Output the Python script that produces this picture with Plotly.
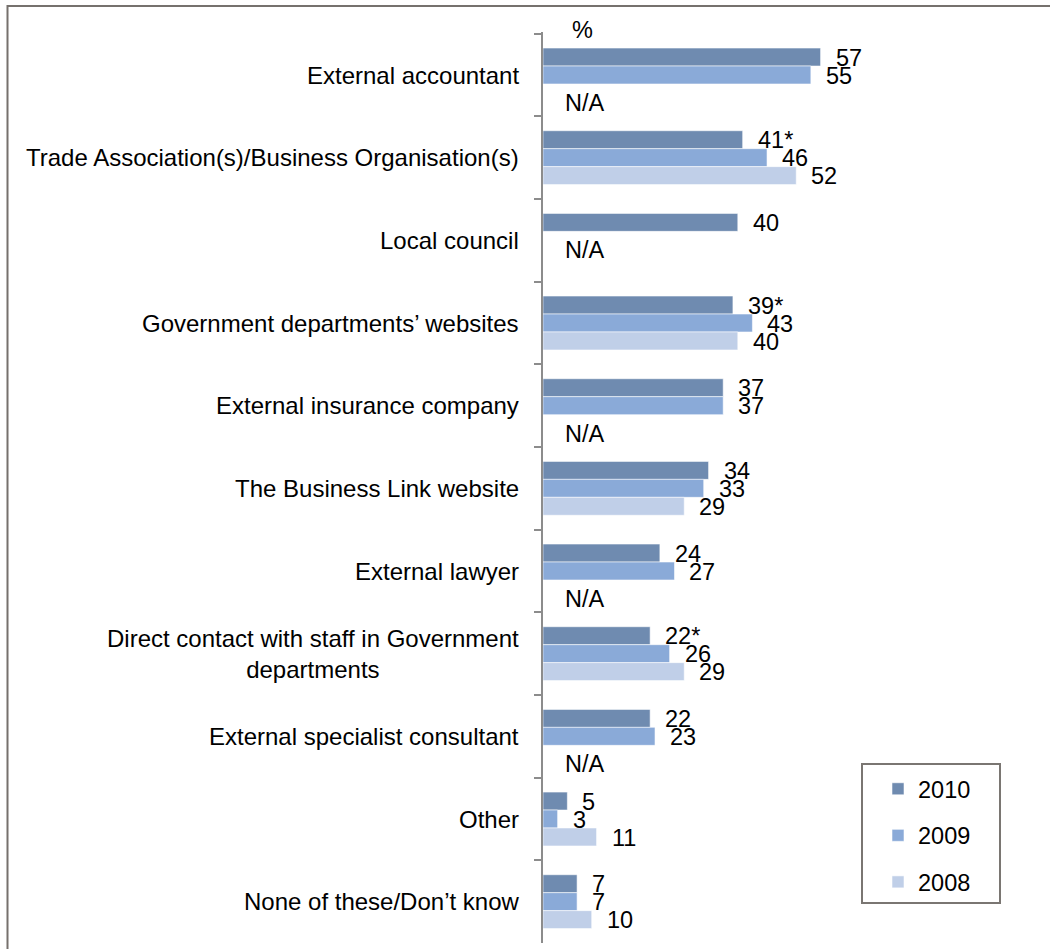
import plotly.graph_objects as go

# Sources of advice used (%), by survey year
categories = [
    "External accountant",
    "Trade Association(s)/Business Organisation(s)",
    "Local council",
    "Government departments’ websites",
    "External insurance company",
    "The Business Link website",
    "External lawyer",
    "Direct contact with staff in Government departments",
    "External specialist consultant",
    "Other",
    "None of these/Don’t know",
]
category_labels = [
    "External accountant",
    "Trade Association(s)/Business Organisation(s)",
    "Local council",
    "Government departments’ websites",
    "External insurance company",
    "The Business Link website",
    "External lawyer",
    "Direct contact with staff in Government<br>departments",
    "External specialist consultant",
    "Other",
    "None of these/Don’t know",
]
share_2010 = [57, 41, 40, 39, 37, 34, 24, 22, 22, 5, 7]
signif_2010 = [False, True, False, True, False, False, False, True, False, False, False]
share_2009 = [55, 46, None, 43, 37, 33, 27, 26, 23, 3, 7]
share_2008 = [None, 52, None, 40, None, 29, None, 29, None, 11, 10]

years = ["2010", "2009", "2008"]
bar_colors = ["#6f8bb0", "#8aaad8", "#c0cfe8"]
series = [share_2010, share_2009, share_2008]
stars = [signif_2010, [False] * len(categories), [False] * len(categories)]

FONT = "Liberation Sans, Arial, sans-serif"
W, H = 1050, 949
L, R, T, B = 543, 20, 32, 6
PW, PH = W - L - R, H - T - B


def px_x(px):
    return (px - L) / PW


def px_y(py):
    return (H - B - py) / PH


fig = go.Figure()
for year, vals, color in zip(years, series, bar_colors):
    fig.add_trace(go.Bar(
        y=categories, x=vals, orientation="h", name=year,
        legendgroup=year,
        marker=dict(color=color, line=dict(color="rgba(255,255,255,0.55)", width=1)),
        hoverinfo="x+name",
    ))

annotations = []
slot_px = 18
# value labels next to each bar end
for j, (vals, st) in enumerate(zip(series, stars)):
    for cat, v, s in zip(categories, vals, st):
        if v is None:
            continue
        annotations.append(dict(
            x=v, y=cat, xref="x", yref="y", text=f"{v}{'*' if s else ''}",
            showarrow=False, xanchor="left", yanchor="middle",
            xshift=13, yshift=slot_px * (1 - j) - 0.5,
            font=dict(family=FONT, size=23.5, color="#000000"),
        ))
# "N/A" where a year was not asked
for i, cat in enumerate(categories):
    for j, vals in enumerate(series):
        if vals[i] is None:
            annotations.append(dict(
                x=0, y=cat, xref="x", yref="y", text="N/A",
                showarrow=False, xanchor="left", yanchor="middle",
                xshift=20, yshift=slot_px * (1 - j) - 10,
                font=dict(family=FONT, size=23.5, color="#000000"),
            ))
            break
# category labels, centred multi-line text right-aligned to the axis
for cat, lab in zip(categories, category_labels):
    annotations.append(dict(
        x=0, y=cat, xref="paper", yref="y", text=lab, showarrow=False,
        xanchor="right", yanchor="middle", align="center", xshift=-22,
        font=dict(family=FONT, size=24, color="#000000"),
    ))
annotations.append(dict(
    x=px_x(582), y=px_y(30), xref="paper", yref="paper", text="%",
    showarrow=False, xanchor="center", yanchor="middle",
    font=dict(family=FONT, size=23.5, color="#000000"),
))

shapes = [
    # outer frame
    dict(type="rect", xref="paper", yref="paper",
         x0=px_x(7.5), x1=px_x(1070), y0=px_y(970), y1=px_y(6),
         line=dict(color="#76716d", width=2), fillcolor="rgba(0,0,0,0)", layer="below"),
    # legend frame
    dict(type="rect", xref="paper", yref="paper",
         x0=px_x(862), x1=px_x(1000), y0=px_y(903), y1=px_y(764),
         line=dict(color="#7a7672", width=2), fillcolor="rgba(0,0,0,0)"),
]

fig.update_layout(
    width=W, height=H,
    margin=dict(l=L, r=R, t=T, b=B, pad=0),
    paper_bgcolor="white", plot_bgcolor="white",
    barmode="group", bargap=0.348, bargroupgap=0,
    font=dict(family=FONT, size=24, color="#000000"),
    xaxis=dict(range=[0, 100], visible=False, fixedrange=True),
    yaxis=dict(
        type="category", categoryorder="array", categoryarray=categories,
        autorange="reversed", showticklabels=False,
        ticks="outside", tickson="boundaries", ticklen=7,
        tickcolor="#8c8c8c", tickwidth=2,
        showline=True, linecolor="#8c8c8c", linewidth=2,
        showgrid=False, zeroline=False, fixedrange=True,
    ),
    legend=dict(
        x=px_x(878), y=px_y(767), xanchor="left", yanchor="top",
        traceorder="grouped", tracegroupgap=13,
        font=dict(family=FONT, size=23.5, color="#000000"),
        bgcolor="rgba(0,0,0,0)", borderwidth=0,
    ),
    annotations=annotations,
    shapes=shapes,
    showlegend=True,
)

fig.write_html("out.html")
